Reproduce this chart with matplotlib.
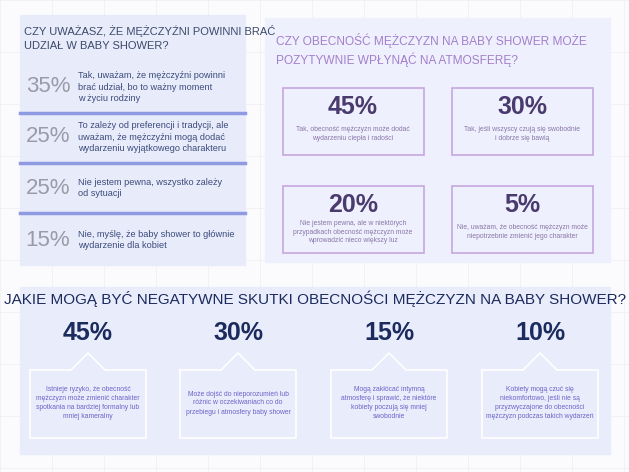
import matplotlib.pyplot as plt
from matplotlib.patches import Rectangle

plt.rcParams['font.family'] = ['Liberation Sans', 'DejaVu Sans']

q1_title = "CZY UWAŻASZ, ŻE MĘŻCZYŹNI POWINNI BRAĆ\nUDZIAŁ W BABY SHOWER?"
q1_pct = ["35%", "25%", "25%", "15%"]
q1_txt = ["Tak, uważam, że mężczyźni powinni\nbrać udział, bo to ważny moment\nw życiu rodziny",
          "To zależy od preferencji i tradycji, ale\nuważam, że mężczyźni mogą dodać\nwydarzeniu wyjątkowego charakteru",
          "Nie jestem pewna, wszystko zależy\nod sytuacji",
          "Nie, myślę, że baby shower to głównie\nwydarzenie dla kobiet"]

q2_title = "CZY OBECNOŚĆ MĘŻCZYZN NA BABY SHOWER MOŻE\nPOZYTYWNIE WPŁYNĄĆ NA ATMOSFERĘ?"
q2_pct = ["45%", "30%", "20%", "5%"]
q2_txt = ["Tak, obecność mężczyzn może dodać\nwydarzeniu ciepła i radości",
          "Tak, jeśli wszyscy czują się swobodnie\ni dobrze się bawią",
          "Nie jestem pewna, ale w niektórych\nprzypadkach obecność mężczyzn może\nwprowadzić nieco większy luz",
          "Nie, uważam, że obecność mężczyzn może\nniepotrzebnie zmienić jego charakter"]

q3_title = "JAKIE MOGĄ BYĆ NEGATYWNE SKUTKI OBECNOŚCI MĘŻCZYZN NA BABY SHOWER?"
q3_pct = ["45%", "30%", "15%", "10%"]
q3_txt = ["Istnieje ryzyko, że obecność\nmężczyzn może zmienić charakter\nspotkania na bardziej formalny lub\nmniej kameralny",
          "Może dojść do nieporozumień lub\nróżnic w oczekiwaniach co do\nprzebiegu i atmosfery baby shower",
          "Mogą zakłócać intymną\natmosferę i sprawić, że niektóre\nkobiety poczują się mniej\nswobodnie",
          "Kobiety mogą czuć się\nniekomfortowo, jeśli nie są\nprzyzwyczajone do obecności\nmężczyzn podczas takich wydarzeń"]

fig = plt.figure(figsize=(6.29, 4.72), dpi=100)
ax = fig.add_axes([0, 0, 1, 1])
ax.set_xlim(0, 629)
ax.set_ylim(472, 0)
ax.axis('off')
fig.patch.set_facecolor('#fbfbfe')

# faint grid background
for gx in range(0, 629, 52):
    ax.axvline(gx, color='#f0f0f5', lw=0.6, zorder=0)
for gy in range(0, 472, 52):
    ax.axhline(gy, color='#f0f0f5', lw=0.6, zorder=0)

# panel 1
ax.add_patch(Rectangle((20, 15), 225, 250, color='#e8ecfa', zorder=1))
ax.text(24, 38, q1_title, fontsize=8, color='#3b4a6b', va='center', linespacing=1.4, zorder=3)
rows = [87, 137, 188, 240]
for i, (p, t) in enumerate(zip(q1_pct, q1_txt)):
    ax.text(48, rows[i], p, fontsize=16, color='#9a9aa8', ha='center', va='center', zorder=3)
    ax.text(78, rows[i], t, fontsize=6.6, color='#3b4a7b', va='center', linespacing=1.3, zorder=3)
for ly in [113, 163, 213]:
    ax.plot([20, 245], [ly, ly], color='#8e9be3', lw=2.5, zorder=2)

# panel 2
ax.add_patch(Rectangle((265, 18), 345, 244, color='#eef0fd', zorder=1))
ax.text(276, 50, q2_title, fontsize=8.6, color='#a47fcb', va='center', linespacing=1.45, zorder=3)
boxes2 = [(283, 88), (452, 88), (283, 186), (452, 186)]
for (bx, by), p, t in zip(boxes2, q2_pct, q2_txt):
    ax.add_patch(Rectangle((bx, by), 141, 67, fill=False, ec='#c7a6e0', lw=1.2, zorder=2))
    ax.text(bx + 70, by + 19, p, fontsize=18, color='#4a3a6e', ha='center', va='center',
            weight='bold', zorder=3)
    ax.text(bx + 70, by + 46, t, fontsize=4.9, color='#8a76a8', ha='center', va='center',
            linespacing=1.3, zorder=3)

# panel 3
ax.add_patch(Rectangle((20, 287), 590, 167, color='#e8ecfb', zorder=1))
ax.text(315, 299, q3_title, fontsize=11, color='#1c2b5e', ha='center', va='center', zorder=3)
cols = [88, 238, 389, 540]
for cx, p, t in zip(cols, q3_pct, q3_txt):
    ax.text(cx, 333, p, fontsize=18, color='#1c2b5e', ha='center', va='center', weight='bold', zorder=3)
    ax.plot([cx - 58, cx - 17, cx, cx + 17, cx + 58, cx + 58, cx - 58, cx - 58],
            [370, 370, 353, 370, 370, 438, 438, 370], color='white', lw=1.2, zorder=2)
    ax.text(cx, 403, t, fontsize=4.9, color='#6c64c8', ha='center', va='center',
            linespacing=1.4, zorder=3)

fig.savefig('out.png', dpi=100, facecolor=fig.get_facecolor())
